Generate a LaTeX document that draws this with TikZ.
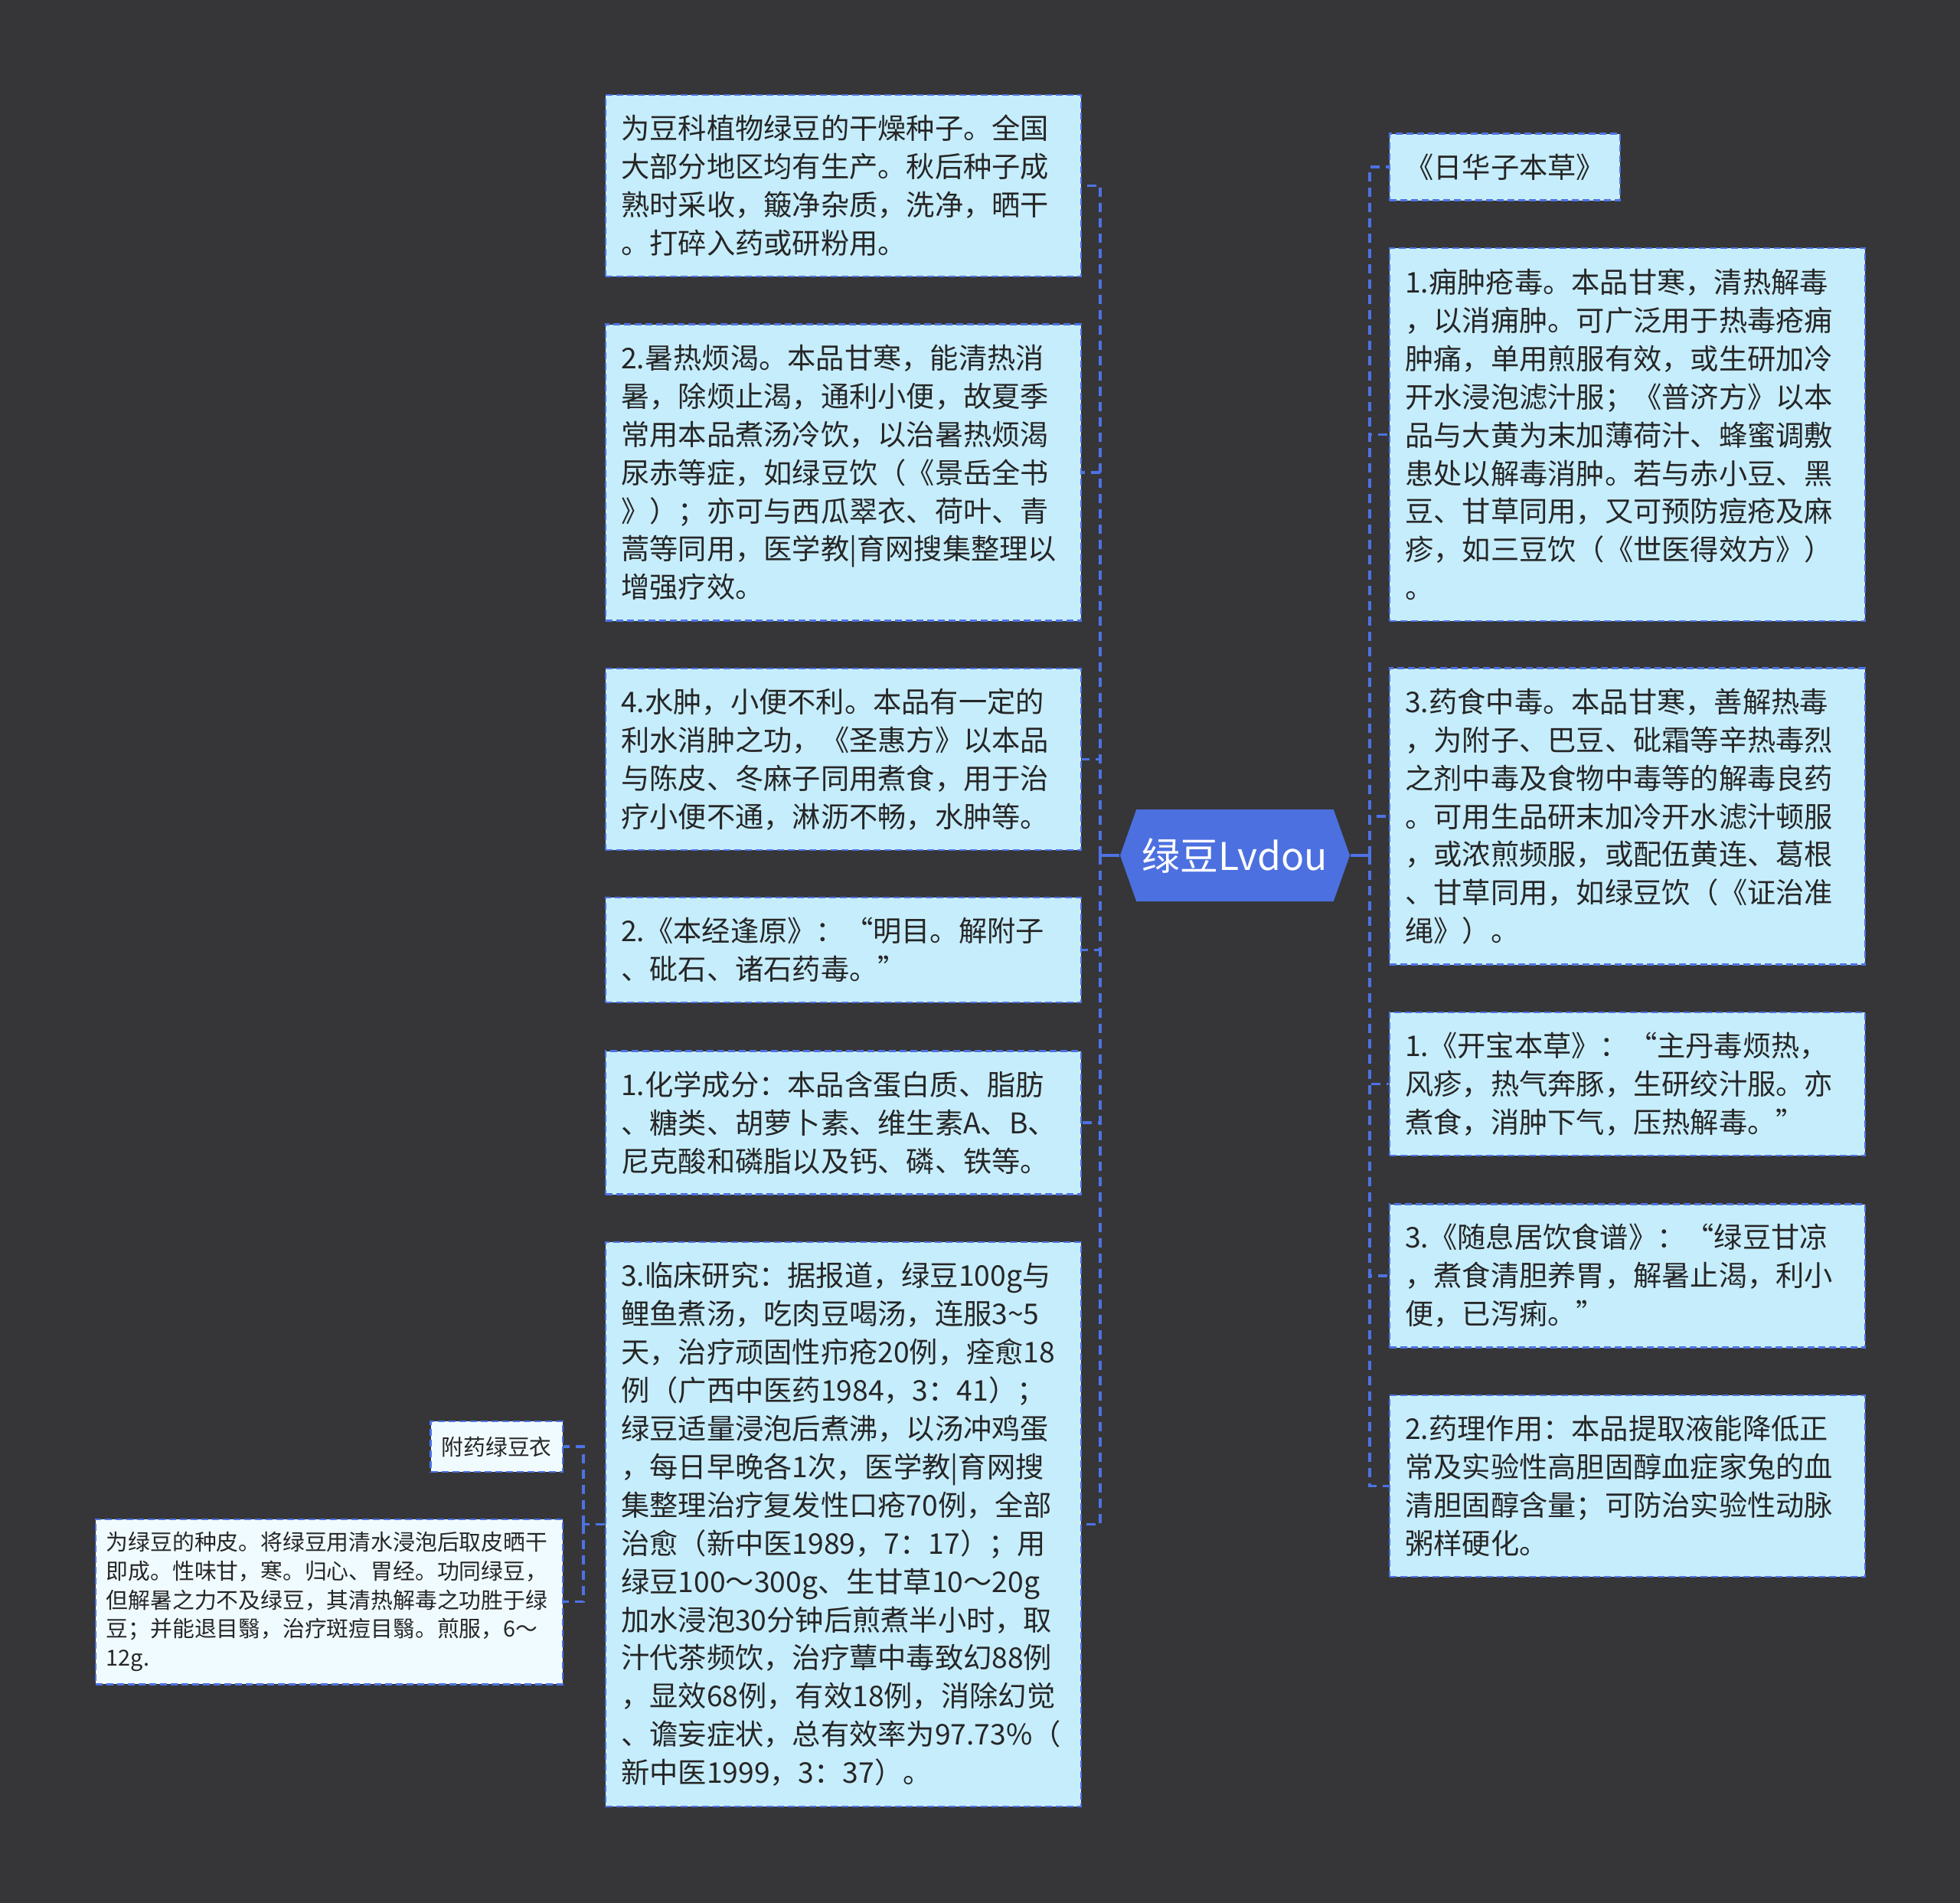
\documentclass[tikz,border=0pt]{standalone}
\usepackage{fontspec}
\setmainfont{Noto Sans CJK SC}
\usetikzlibrary{shapes.symbols}
\definecolor{bgdark}{HTML}{363638}
\definecolor{leaffill}{HTML}{C6EDFC}
\definecolor{palefill}{HTML}{F0FBFF}
\definecolor{edgeblue}{HTML}{4D72E4}
\definecolor{rootblue}{HTML}{4C70E0}
\definecolor{inktext}{HTML}{262626}

\begin{document}
\begin{tikzpicture}[font=\fontsize{10.6}{14.2}\selectfont,
	box/.style={draw=edgeblue, line width=0.7pt, dash pattern=on 0.09cm off 0.05cm,
		fill=leaffill, text=inktext, align=left, inner xsep=0.2cm, inner ysep=0.1cm},
	leaf/.style={box, text width=5.81cm, minimum height={#1*0.5cm+0.37cm}},
	note/.style={box, fill=palefill, inner xsep=0.14cm, font=\fontsize{8.2}{10.7}\selectfont},
	root/.style={shape=signal, signal to=east and west, signal pointer angle=141,
		fill=rootblue, text=white, inner sep=0pt, minimum width=3cm, minimum height=1.2cm,
		font=\fontsize{14.2}{16}\selectfont},
	link/.style={draw=edgeblue, line width=1.1pt},
	linkd/.style={link, dash pattern=on 0.12cm off 0.08cm}]
		\def\lx{7.90}   % left edge of left column
		\def\rx{18.14}  % left edge of right column
		% backdrop
		\fill[bgdark] (0,0) rectangle (25.6,-24.85);
		% centre
		\node[root] (root) at (16.13,-11.17) {绿豆Lvdou};
		% left column
		\node[leaf=4, anchor=west] (l1) at (\lx,-2.425) {为豆科植物绿豆的干燥种子。全国\\大部分地区均有生产。秋后种子成\\熟时采收，簸净杂质，洗净，晒干\\。打碎入药或研粉用。};
		\node[leaf=7, anchor=west] (l2) at (\lx,-6.17) {2.暑热烦渴。本品甘寒，能清热消\\暑，除烦止渴，通利小便，故夏季\\常用本品煮汤冷饮，以治暑热烦渴\\尿赤等症，如绿豆饮（《景岳全书\\》）；亦可与西瓜翠衣、荷叶、青\\蒿等同用，医学教|育网搜集整理以\\增强疗效。};
		\node[leaf=4, anchor=west] (l3) at (\lx,-9.915) {4.水肿，小便不利。本品有一定的\\利水消肿之功，《圣惠方》以本品\\与陈皮、冬麻子同用煮食，用于治\\疗小便不通，淋沥不畅，水肿等。};
		\node[leaf=2, anchor=west] (l4) at (\lx,-12.405) {2.《本经逢原》：“明目。解附子\\、砒石、诸石药毒。”};
		\node[leaf=3, anchor=west] (l5) at (\lx,-14.66) {1.化学成分：本品含蛋白质、脂肪\\、糖类、胡萝卜素、维生素A、B、\\尼克酸和磷脂以及钙、磷、铁等。};
		\node[leaf=14, anchor=west] (l6) at (\lx,-19.905) {3.临床研究：据报道，绿豆100g与\\鲤鱼煮汤，吃肉豆喝汤，连服3\textasciitilde5\\天，治疗顽固性疖疮20例，痊愈18\\例（广西中医药1984，3：41）；\\绿豆适量浸泡后煮沸，以汤冲鸡蛋\\，每日早晚各1次，医学教|育网搜\\集整理治疗复发性口疮70例，全部\\治愈（新中医1989，7：17）；用\\绿豆100～300g、生甘草10～20g\\加水浸泡30分钟后煎煮半小时，取\\汁代茶频饮，治疗蕈中毒致幻88例\\，显效68例，有效18例，消除幻觉\\、谵妄症状，总有效率为97.73\%（\\新中医1999，3：37）。};
		% right column
		\node[box, minimum height=0.87cm, anchor=west] (r1) at (\rx,-2.18) {《日华子本草》};
		\node[leaf=9, anchor=west] (r2) at (\rx,-5.675) {1.痈肿疮毒。本品甘寒，清热解毒\\，以消痈肿。可广泛用于热毒疮痈\\肿痛，单用煎服有效，或生研加冷\\开水浸泡滤汁服；《普济方》以本\\品与大黄为末加薄荷汁、蜂蜜调敷\\患处以解毒消肿。若与赤小豆、黑\\豆、甘草同用，又可预防痘疮及麻\\疹，如三豆饮（《世医得效方》）\\。};
		\node[leaf=7, anchor=west] (r3) at (\rx,-10.66) {3.药食中毒。本品甘寒，善解热毒\\，为附子、巴豆、砒霜等辛热毒烈\\之剂中毒及食物中毒等的解毒良药\\。可用生品研末加冷开水滤汁顿服\\，或浓煎频服，或配伍黄连、葛根\\、甘草同用，如绿豆饮（《证治准\\绳》）。};
		\node[leaf=3, anchor=west] (r4) at (\rx,-14.155) {1.《开宝本草》：“主丹毒烦热，\\风疹，热气奔豚，生研绞汁服。亦\\煮食，消肿下气，压热解毒。”};
		\node[leaf=3, anchor=west] (r5) at (\rx,-16.66) {3.《随息居饮食谱》：“绿豆甘凉\\，煮食清胆养胃，解暑止渴，利小\\便，已泻痢。”};
		\node[leaf=4, anchor=west] (r6) at (\rx,-19.405) {2.药理作用：本品提取液能降低正\\常及实验性高胆固醇血症家兔的血\\清胆固醇含量；可防治实验性动脉\\粥样硬化。};
		% side branch of l6
		\node[note, minimum height=0.66cm, anchor=east] (s1) at (7.36,-18.89) {附药绿豆衣};
		\node[note, text width=5.82cm, minimum height=2.155cm, anchor=east] (s2) at (7.36,-20.915) {为绿豆的种皮。将绿豆用清水浸泡后取皮晒干\\即成。性味甘，寒。归心、胃经。功同绿豆，\\但解暑之力不及绿豆，其清热解毒之功胜于绿\\豆；并能退目翳，治疗斑痘目翳。煎服，6～\\12g.};
		% connectors
		\coordinate (lj) at (14.37,-11.17);
		\coordinate (rj) at (17.89,-11.17);
		\coordinate (sj) at (7.62,-19.905);
		\draw[link] (root.west) -- (lj);
		\draw[link] (root.east) -- (rj);
		\foreach \n in {l1,l2,l3,l4,l5,l6}
			\draw[linkd] (lj) |- (\n.east);
		\foreach \n in {r1,r2,r3,r4,r5,r6}
			\draw[linkd] (rj) |- (\n.west);
		\draw[linkd] (l6.west) -- (sj);
		\foreach \n in {s1,s2}
			\draw[linkd] (sj) |- (\n.east);
	\end{tikzpicture}
\end{document}
